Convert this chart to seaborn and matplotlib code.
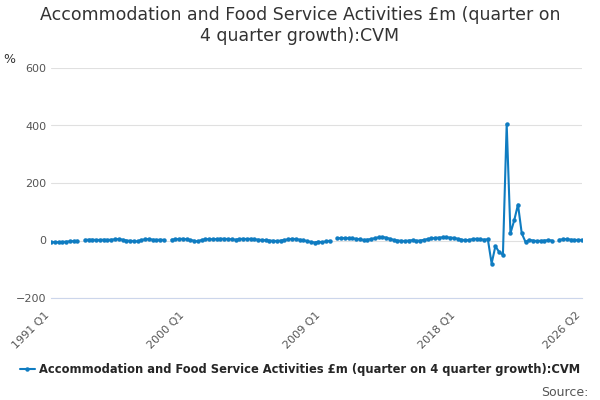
import numpy as np
import pandas as pd
import matplotlib
matplotlib.use("Agg")
import matplotlib.pyplot as plt
import seaborn as sns

nan = np.nan
# quarterly values, 1991 Q1 .. 2026 Q2 (NaN = gaps in the series)
growth = [
    -5, -6, -6, -5, -4, -3, -2, -1, nan, 2,
    3, 3, 2, 2, 3, 2, 3, 4, 5, 3,
    0, -1, -2, -3, 2, 4, 5, 3, 2, 3,
    2, nan, 3, 4, 5, 6, 4, 2, -1, -3,
    2, 4, 5, 4, 5, 6, 6, 5, 4, 3,
    5, 6, 5, 6, 4, 3, 2, 1, 0, -1,
    -2, 0, 2, 4, 6, 5, 3, 1, -2, -5,
    -7, -4, -6, -3, -1, nan, 7, 9, 8, 8,
    7, 6, 4, 2, 3, 5, 8, 11, 12, 10,
    6, 2, 0, -1, -2, 0, 1, -1, 0, 2,
    5, 7, 9, 10, 11, 11, 10, 9, 6, 3,
    1, 2, 5, 6, 4, 3, 4, -80, -20, -40,
    -50, 405, 25, 70, 125, 25, -5, 2, 0, -2,
    -1, 0, 1, 0, nan, 3, 4, 5, 3, 2,
    2, 2,
]
quarters = [f"{1991 + i // 4} Q{i % 4 + 1}" for i in range(len(growth))]
tick_labels = ["1991 Q1", "2000 Q1", "2009 Q1", "2018 Q1", "2026 Q2"]
label = "Accommodation and Food Service Activities £m (quarter on 4 quarter growth):CVM"

df = pd.DataFrame({"x": range(len(growth)), "value": growth})

sns.set_style("white")
fig, ax = plt.subplots(figsize=(6, 4), dpi=100)
ax.plot(df["x"], df["value"], color="#0f7cc1", lw=1.5, marker="o", ms=2.2,
        label=label)

ax.set_ylim(-200, 600)
ax.set_yticks([-200, 0, 200, 400, 600])
ax.yaxis.grid(True, color="#e0e0e0", lw=0.8)
ax.tick_params(axis="y", length=0, labelsize=8, colors="#555555")
ticks = [quarters.index(t) for t in tick_labels]
ax.set_xticks(ticks)
ax.set_xticklabels(tick_labels, rotation=45, ha="right", fontsize=8, color="#555555")
ax.tick_params(axis="x", length=5, color="#ccd6eb")
ax.set_xlim(ticks[0], ticks[-1])
for s in ["top", "right", "left"]:
    ax.spines[s].set_visible(False)
ax.spines["bottom"].set_color("#ccd6eb")
ax.text(-0.09, 1.02, "%", transform=ax.transAxes, fontsize=9, color="#333333")

fig.suptitle("Accommodation and Food Service Activities £m (quarter on\n4 quarter growth):CVM",
             fontsize=12.5, color="#333333", y=0.985)
fig.subplots_adjust(left=0.085, right=0.97, top=0.83, bottom=0.255)
fig.legend(loc="lower center", bbox_to_anchor=(0.5, 0.035), frameon=False,
           prop={"weight": "bold", "size": 8.3}, handlelength=1.3, handletextpad=0.4)
fig.text(0.98, 0.01, "Source:", ha="right", fontsize=9, color="#555555")
fig.savefig("out.png")
